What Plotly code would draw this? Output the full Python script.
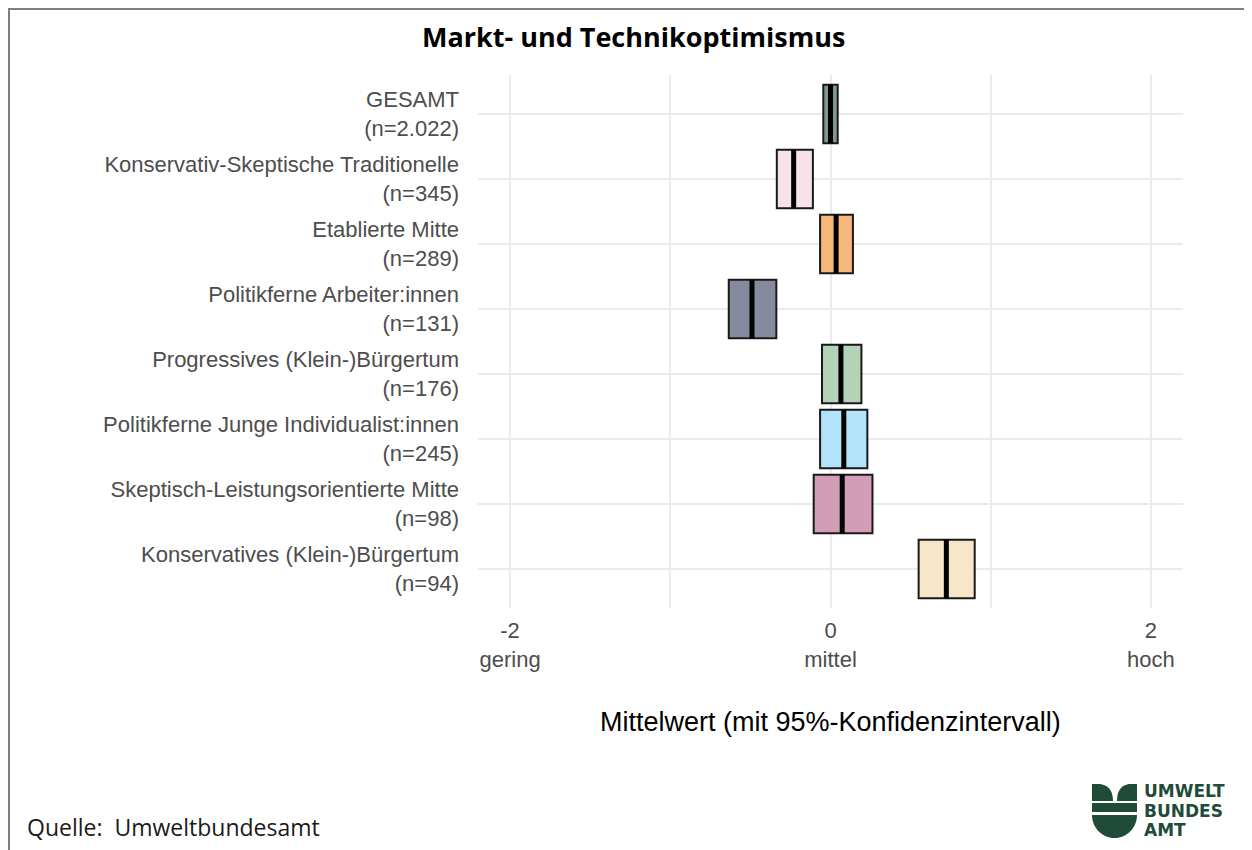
import plotly.graph_objects as go

# ---------------- data ----------------
groups = [
    "GESAMT",
    "Konservativ-Skeptische Traditionelle",
    "Etablierte Mitte",
    "Politikferne Arbeiter:innen",
    "Progressives (Klein-)Bürgertum",
    "Politikferne Junge Individualist:innen",
    "Skeptisch-Leistungsorientierte Mitte",
    "Konservatives (Klein-)Bürgertum",
]
n_labels = ["n=2.022", "n=345", "n=289", "n=131", "n=176", "n=245", "n=98", "n=94"]
means = [0.0, -0.23, 0.035, -0.49, 0.065, 0.083, 0.073, 0.723]
lower = [-0.045, -0.335, -0.065, -0.635, -0.053, -0.065, -0.105, 0.55]
upper = [0.045, -0.11, 0.14, -0.338, 0.193, 0.23, 0.262, 0.90]
x_tick_vals = [-2, 0, 2]
x_tick_words = ["gering", "mittel", "hoch"]
fill_colors = ["#7F998A", "#F7E3E7", "#F6B97B", "#868A9F",
               "#B4D2B5", "#B2E3F8", "#D49DB7", "#F7E7C8"]

# ---------------- geometry helpers (screen pixel -> paper) ----------------
OFF = 8  # page body margin
W, H = 1252, 850
L, T = 478 - OFF, 75 - OFF
PW, PH = 705, 533
R, B = W - L - PW, H - T - PH


def px(x):
    return (x - OFF - L) / PW


def py(y):
    return (T + PH - (y - OFF)) / PH


pos = list(range(len(groups)))
ylabels = [f"{g}<br>({n})" for g, n in zip(groups, n_labels)]

fig = go.Figure()

fig.add_trace(go.Bar(
    y=pos,
    x=[u - l for l, u in zip(lower, upper)],
    base=lower,
    orientation="h",
    width=0.9,
    marker=dict(color=fill_colors, line=dict(color="#1a1a1a", width=2)),
    showlegend=False,
    hoverinfo="skip",
))

mx, my = [], []
for p, m in zip(pos, means):
    mx += [m, m, None]
    my += [p - 0.45, p + 0.45, None]
fig.add_trace(go.Scatter(
    x=mx, y=my, mode="lines",
    line=dict(color="black", width=5),
    showlegend=False, hoverinfo="skip",
))

label_font = dict(family="Liberation Sans, Arial, sans-serif", size=22, color="#4D4D4D")

fig.update_xaxes(
    range=[-2.2, 2.2],
    tickvals=x_tick_vals,
    ticktext=[f"{v}<br>{w}" for v, w in zip(x_tick_vals, x_tick_words)],
    tickfont=label_font,
    showgrid=True, gridcolor="#EBEBEB", gridwidth=1.6,
    minor=dict(tickvals=[-1, 1], showgrid=True, gridcolor="#EBEBEB", gridwidth=1.6),
    zeroline=False, showline=False, ticks="",
    ticklabelstandoff=7,
)
fig.update_yaxes(
    range=[7.6, -0.6],
    tickvals=pos,
    ticktext=ylabels,
    tickfont=label_font,
    showgrid=True, gridcolor="#EBEBEB", gridwidth=1.6,
    zeroline=False, showline=False, ticks="",
    ticklabelstandoff=18,
)

annotations = [
    dict(text="<b>Markt- und Technikoptimismus</b>", x=px(633), y=py(37),
         xanchor="center", yanchor="middle",
         font=dict(family="Open Sans, sans-serif", size=27, color="black")),
    dict(text="Mittelwert (mit 95%-Konfidenzintervall)", x=px(830), y=py(722),
         xanchor="center", yanchor="middle",
         font=dict(family="Liberation Sans, Arial, sans-serif", size=27, color="black")),
    dict(text="Quelle:  Umweltbundesamt", x=px(25), y=py(827),
         xanchor="left", yanchor="middle",
         font=dict(family="Open Sans, sans-serif", size=23, color="#1a1a1a")),
]
logo_green = "#1F4B38"
for txt, yy in [("UMWELT", 791), ("BUNDES", 811), ("AMT", 830)]:
    annotations.append(dict(
        text=f"<b>{txt}</b>", x=px(1142), y=py(yy), xanchor="left", yanchor="middle",
        font=dict(family="DejaVu Sans, sans-serif", size=17, color=logo_green),
    ))
for a in annotations:
    a.update(xref="paper", yref="paper", showarrow=False)


def path(points):
    out = []
    for cmd, *coords in points:
        s = cmd
        for i in range(0, len(coords), 2):
            s += f" {px(coords[i]):.5f},{py(coords[i+1]):.5f}"
        out.append(s)
    return " ".join(out) + " Z"


k = 0.5523
shapes = [
    # outer frame (left + top edges visible)
    dict(type="rect", xref="paper", yref="paper",
         x0=px(9), x1=px(1275), y0=py(875), y1=py(9),
         line=dict(color="#7F7F7F", width=2), fillcolor="rgba(0,0,0,0)", layer="above"),
    # logo: left leaf
    dict(type="path", xref="paper", yref="paper", line=dict(width=0), fillcolor=logo_green,
         path=path([("M", 1092, 784), ("L", 1100, 784), ("Q", 1113, 786, 1113, 801),
                    ("L", 1092, 801)])),
    # logo: right leaf
    dict(type="path", xref="paper", yref="paper", line=dict(width=0), fillcolor=logo_green,
         path=path([("M", 1137, 784), ("L", 1129, 784), ("Q", 1117, 786, 1117, 801),
                    ("L", 1137, 801)])),
    # logo: bar
    dict(type="path", xref="paper", yref="paper", line=dict(width=0), fillcolor=logo_green,
         path=path([("M", 1092, 803), ("L", 1137, 803), ("L", 1137, 812), ("L", 1092, 812)])),
    # logo: half disc
    dict(type="path", xref="paper", yref="paper", line=dict(width=0), fillcolor=logo_green,
         path=path([("M", 1092, 815), ("L", 1137, 815),
                    ("C", 1137, 815 + 23 * k, 1114.5 + 22.5 * k, 838, 1114.5, 838),
                    ("C", 1114.5 - 22.5 * k, 838, 1092, 815 + 23 * k, 1092, 815)])),
]

fig.update_layout(
    width=W, height=H,
    margin=dict(l=L, r=R, t=T, b=B, autoexpand=False),
    paper_bgcolor="white", plot_bgcolor="white",
    annotations=annotations, shapes=shapes,
    bargap=0.1,
)

fig.write_html("out.html")
